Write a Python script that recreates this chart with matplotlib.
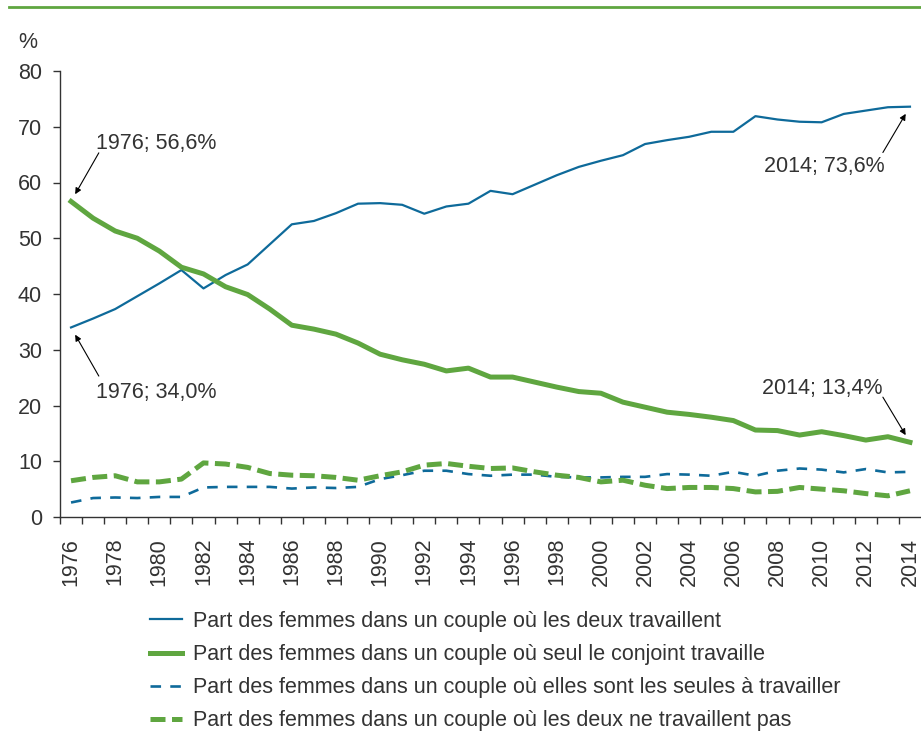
import matplotlib
matplotlib.use('Agg')
import matplotlib.pyplot as plt
import numpy as np
from matplotlib.lines import Line2D
from matplotlib.ticker import FixedLocator

plt.rcParams['font.family'] = ['Liberation Sans', 'DejaVu Sans']

years = list(range(1976, 2015))

# part des femmes, couple ou les deux travaillent
deux_travaillent = [34.0, 35.6, 37.3, 39.6, 41.9, 44.3, 41.0, 43.4, 45.3, 48.9,
                    52.5, 53.1, 54.5, 56.2, 56.3, 56.0, 54.4, 55.7, 56.2, 58.5,
                    57.9, 59.6, 61.3, 62.8, 63.9, 64.9, 66.9, 67.6, 68.2, 69.1,
                    69.1, 71.9, 71.3, 70.9, 70.8, 72.3, 72.9, 73.5, 73.6]
# seul le conjoint travaille
seul_conjoint = [56.6, 53.6, 51.3, 50.0, 47.7, 44.8, 43.6, 41.3, 39.9, 37.3,
                 34.4, 33.7, 32.8, 31.2, 29.2, 28.2, 27.4, 26.2, 26.7, 25.1,
                 25.1, 24.2, 23.3, 22.5, 22.2, 20.6, 19.7, 18.8, 18.4, 17.9,
                 17.3, 15.6, 15.5, 14.7, 15.3, 14.6, 13.8, 14.4, 13.4]
# elles sont les seules a travailler
seules = [2.6, 3.4, 3.5, 3.4, 3.6, 3.6, 5.3, 5.4, 5.4, 5.4,
          5.1, 5.3, 5.2, 5.4, 6.8, 7.5, 8.3, 8.3, 7.7, 7.4,
          7.6, 7.6, 7.2, 7.1, 7.1, 7.2, 7.2, 7.7, 7.6, 7.4,
          8.1, 7.4, 8.3, 8.7, 8.5, 8.0, 8.6, 8.0, 8.1]
# les deux ne travaillent pas
aucun = [6.5, 7.1, 7.4, 6.3, 6.3, 6.8, 9.7, 9.5, 8.9, 7.8,
         7.5, 7.4, 7.1, 6.6, 7.4, 8.1, 9.3, 9.6, 9.1, 8.7,
         8.8, 8.1, 7.5, 7.1, 6.3, 6.6, 5.7, 5.1, 5.3, 5.3,
         5.1, 4.5, 4.6, 5.3, 5.0, 4.7, 4.2, 3.8, 4.7]

labels = ["Part des femmes dans un couple où les deux travaillent",
          "Part des femmes dans un couple où seul le conjoint travaille",
          "Part des femmes dans un couple où elles sont les seules à travailler",
          "Part des femmes dans un couple où les deux ne travaillent pas"]

blue = '#0e6a9a'
green = '#5fa640'
txt = '#333333'

fig = plt.figure(figsize=(9.21, 7.34), dpi=100)
ax = fig.add_axes([60/921, 1-517/734, 1-60/921, (517-71)/734])

x = np.arange(len(years))
ax.plot(x, deux_travaillent, color=blue, lw=1.6, label=labels[0])
ax.plot(x, seul_conjoint, color=green, lw=3.6, label=labels[1])
ax.plot(x, seules, color=blue, lw=1.9, ls=(0, (4, 3.5)), label=labels[2])
ax.plot(x, aucun, color=green, lw=3.6, ls=(0, (3, 1.3)), label=labels[3])

ax.set_xlim(-0.5, len(years) - 0.5)
ax.set_ylim(0, 80)
ax.set_yticks(range(0, 81, 10))
ax.set_xticks(x[::2])
ax.set_xticklabels([str(y) for y in years[::2]], rotation=90)
ax.xaxis.set_minor_locator(FixedLocator(np.arange(-0.5, len(years) - 0.5, 1)))
ax.tick_params(axis='x', which='major', length=0, pad=15, labelsize=15.5, colors=txt)
ax.tick_params(axis='x', which='minor', length=5, width=1, color=txt, direction='out')
ax.tick_params(axis='y', length=5, width=1, pad=8, labelsize=15.5, colors=txt)
for s in ['top', 'right']:
    ax.spines[s].set_visible(False)
for s in ['left', 'bottom']:
    ax.spines[s].set_color(txt)
    ax.spines[s].set_linewidth(1)

fig.text(18/921, 1-42/734, '%', fontsize=15.5, color=txt, va='center', ha='left')

# annotations
arrow = dict(arrowstyle='-|>', color='black', lw=0.8, mutation_scale=9, shrinkA=0)
notes = [
    (0, seul_conjoint[0], '1976; 56,6%', (20, 35), (18, 42), 'left'),
    (0, deux_travaillent[0], '1976; 34,0%', (20, -35), (18, -47), 'left'),
    (len(years) - 1, deux_travaillent[-1], '2014; 73,6%', (-19.5, -33), (-18, -43), 'right'),
    (len(years) - 1, seul_conjoint[-1], '2014; 13,4%', (-19.5, 32.5), (-20, 39), 'right'),
]
for xi, yi, t, aoff, toff, ha in notes:
    ax.annotate('', xy=(xi, yi), xytext=aoff, textcoords='offset points',
                arrowprops=dict(arrow, shrinkB=6))
    ax.annotate(t, xy=(xi, yi), xytext=toff, textcoords='offset points',
                fontsize=15.5, color=txt, ha=ha, va='center')

fig.legend(loc='upper left', bbox_to_anchor=(150/921, 1-611/734), frameon=False,
           fontsize=15.5, handlelength=1.5, handletextpad=0.5, labelspacing=0.56,
           borderpad=0, borderaxespad=0, labelcolor=txt)

fig.add_artist(Line2D([9/921, 1], [1-7/734, 1-7/734], color=green, lw=2))

fig.savefig('out.png', dpi=100)
